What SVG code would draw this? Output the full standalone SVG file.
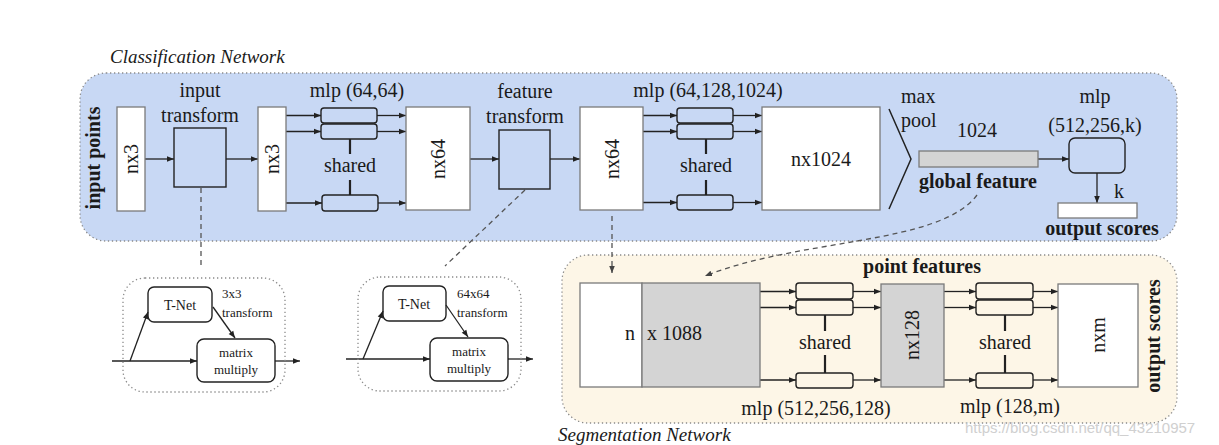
<svg xmlns="http://www.w3.org/2000/svg" width="1219" height="445" viewBox="0 0 1219 445">
<defs>
<marker id="ah" viewBox="0 0 10 10" refX="10" refY="5" markerWidth="8" markerHeight="7" markerUnits="userSpaceOnUse" orient="auto"><path d="M0,1 L10,5 L0,9 z" fill="#222"/></marker>
<marker id="ahd" viewBox="0 0 10 10" refX="10" refY="5" markerWidth="7" markerHeight="7" markerUnits="userSpaceOnUse" orient="auto"><path d="M0,1 L10,5 L0,9 z" fill="#444"/></marker>
<style>
.t{font-family:'Liberation Serif','Times New Roman','DejaVu Serif',serif;font-size:20px;fill:#1a1a1a}
.m{text-anchor:middle}
.b{font-weight:bold}
.i{font-style:italic}
.s{font-size:14px}
.xs{font-size:13px}
.wbox{fill:#fff;stroke:#7a7a7a;stroke-width:1.3}
.gbox{fill:#d4d4d4;stroke:#7a7a7a;stroke-width:1.3}
.bbox{fill:#c8d8f4;stroke:#222;stroke-width:1.4}
.mb{fill:none;stroke:#222;stroke-width:1.4}
.ar{stroke:#222;stroke-width:1.3;fill:none;marker-end:url(#ah)}
.ln{stroke:#222;stroke-width:2.2}
.dash{stroke:#555;stroke-width:1.3;fill:none;stroke-dasharray:5 4}
.panel{stroke:#8a8a8a;stroke-width:1.3;stroke-dasharray:1.3 2.7}
</style>
</defs>
<rect width="1219" height="445" fill="#fff"/>

<g id="classification-panel">
<rect class="panel" x="80" y="73" width="1097" height="168" rx="26" fill="#c8d8f4"/>
<text class="t i" x="110" y="63" style="font-size:19px">Classification Network</text>
<text class="t b m" transform="rotate(-90 93 158)" x="93" y="158" dominant-baseline="central">input points</text>
</g>
<g id="segmentation-panel">
<rect class="panel" x="562" y="255" width="615" height="168" rx="26" fill="#fdf6e7"/>
<text class="t i" x="558" y="441" style="font-size:19px">Segmentation Network</text>
<text class="t b m" transform="rotate(-90 1153 336)" x="1153" y="336" dominant-baseline="central">output scores</text>
</g>

<g id="connectors">
<line class="ar" x1="145" y1="159" x2="174" y2="159"/>
<line class="ar" x1="226" y1="159" x2="258" y2="159"/>
<line class="ar" x1="286" y1="115.5" x2="321" y2="115.5"/>
<line class="ar" x1="286" y1="131.5" x2="321" y2="131.5"/>
<line class="ar" x1="286" y1="203" x2="322" y2="203"/>
<line class="ar" x1="377" y1="115.5" x2="406" y2="115.5"/>
<line class="ar" x1="377" y1="131.5" x2="406" y2="131.5"/>
<line class="ar" x1="378" y1="203" x2="406" y2="203"/>
<line class="ar" x1="470" y1="159" x2="499" y2="159"/>
<line class="ar" x1="550" y1="159" x2="580" y2="159"/>
<line class="ar" x1="643" y1="115.5" x2="677" y2="115.5"/>
<line class="ar" x1="643" y1="131.5" x2="677" y2="131.5"/>
<line class="ar" x1="643" y1="202.5" x2="677" y2="202.5"/>
<line class="ar" x1="733" y1="115.5" x2="762" y2="115.5"/>
<line class="ar" x1="733" y1="131.5" x2="762" y2="131.5"/>
<line class="ar" x1="733" y1="202.5" x2="762" y2="202.5"/>
<line class="ar" x1="1038" y1="159" x2="1069" y2="159"/>
<line class="ar" x1="1097" y1="173" x2="1097" y2="203"/>
<line class="ar" x1="760" y1="291.5" x2="796" y2="291.5"/>
<line class="ar" x1="760" y1="307.5" x2="796" y2="307.5"/>
<line class="ar" x1="760" y1="380" x2="796" y2="380"/>
<line class="ar" x1="853" y1="291.5" x2="881" y2="291.5"/>
<line class="ar" x1="853" y1="307.5" x2="881" y2="307.5"/>
<line class="ar" x1="853" y1="380" x2="881" y2="380"/>
<line class="ar" x1="944" y1="291.5" x2="976" y2="291.5"/>
<line class="ar" x1="944" y1="307.5" x2="976" y2="307.5"/>
<line class="ar" x1="944" y1="380" x2="976" y2="380"/>
<line class="ar" x1="1033" y1="291.5" x2="1058" y2="291.5"/>
<line class="ar" x1="1033" y1="307.5" x2="1058" y2="307.5"/>
<line class="ar" x1="1033" y1="380" x2="1058" y2="380"/>
<line class="ln" x1="350" y1="139" x2="350" y2="154"/>
<line class="ln" x1="350" y1="180" x2="350" y2="195"/>
<line class="ln" x1="706" y1="139" x2="706" y2="154"/>
<line class="ln" x1="706" y1="180" x2="706" y2="195"/>
<line class="ln" x1="825" y1="315" x2="825" y2="331"/>
<line class="ln" x1="825" y1="355" x2="825" y2="373"/>
<line class="ln" x1="1005" y1="315" x2="1005" y2="331"/>
<line class="ln" x1="1005" y1="355" x2="1005" y2="373"/>
<line class="dash" x1="201" y1="188" x2="201" y2="266"/>
<line class="dash" x1="525" y1="190" x2="445" y2="266"/>
<line class="dash" x1="612" y1="216" x2="612" y2="273" marker-end="url(#ahd)"/>
<path class="dash" d="M977,195 C940,245 800,238 705,276" marker-end="url(#ahd)"/>
<line class="ar" x1="112" y1="361" x2="197" y2="361"/>
<line class="ar" x1="130" y1="361" x2="148" y2="312"/>
<line class="ar" x1="213" y1="307" x2="235" y2="338"/>
<line class="ar" x1="275" y1="361" x2="300" y2="361"/>
<line class="ar" x1="346" y1="359" x2="430" y2="359"/>
<line class="ar" x1="363" y1="359" x2="383" y2="311"/>
<line class="ar" x1="446" y1="305" x2="468" y2="337"/>
<line class="ar" x1="508" y1="359" x2="533" y2="359"/>
</g>

<g id="nx3-a"><rect class="wbox" x="117" y="107" width="28" height="104"/><text class="t m" transform="rotate(-90 131 159)" x="131" y="159" dominant-baseline="central">nx3</text></g>
<g id="input-transform"><text class="t m" x="200" y="97">input</text><text class="t m" x="200" y="122">transform</text><rect class="bbox" x="174" y="128" width="52" height="59"/></g>
<g id="nx3-b"><rect class="wbox" x="258" y="107" width="28" height="104"/><text class="t m" transform="rotate(-90 272 159)" x="272" y="159" dominant-baseline="central">nx3</text></g>
<g id="mlp-64-64"><text class="t m" x="357" y="97">mlp (64,64)</text>
<rect class="mb" x="321" y="108" width="56" height="15" rx="3"/><rect class="mb" x="321" y="124" width="56" height="15" rx="3"/><rect class="mb" x="322" y="195" width="56" height="16" rx="3"/>
<text class="t m" x="350" y="172">shared</text></g>
<g id="nx64-a"><rect class="wbox" x="406" y="107" width="64" height="103"/><text class="t m" transform="rotate(-90 438 159)" x="438" y="159" dominant-baseline="central">nx64</text></g>
<g id="feature-transform"><text class="t m" x="525" y="98">feature</text><text class="t m" x="525" y="123">transform</text><rect class="bbox" x="499" y="130" width="51" height="59"/></g>
<g id="nx64-b"><rect class="wbox" x="580" y="107" width="63" height="103"/><text class="t m" transform="rotate(-90 612 159)" x="612" y="159" dominant-baseline="central">nx64</text></g>
<g id="mlp-64-128-1024"><text class="t m" x="708" y="97">mlp (64,128,1024)</text>
<rect class="mb" x="677" y="108" width="56" height="15" rx="3"/><rect class="mb" x="677" y="124" width="56" height="15" rx="3"/><rect class="mb" x="677" y="195" width="56" height="15" rx="3"/>
<text class="t m" x="706" y="172">shared</text></g>
<g id="nx1024"><rect class="wbox" x="762" y="107" width="118" height="103"/><text class="t m" x="821" y="166">nx1024</text></g>
<g id="max-pool"><polyline points="889,109 911,159 889,209" fill="none" stroke="#222" stroke-width="1.5"/><text class="t" x="901" y="103">max</text><text class="t" x="901" y="127">pool</text></g>
<g id="global-feature"><text class="t m" x="977" y="137">1024</text><rect class="gbox" x="919" y="151" width="119" height="16"/><text class="t b m" x="978" y="188">global feature</text></g>
<g id="mlp-512-256-k"><text class="t m" x="1095" y="103">mlp</text><text class="t m" x="1095" y="132">(512,256,k)</text><rect class="bbox" x="1069" y="138" width="56" height="35" rx="6"/></g>
<g id="class-output"><text class="t" x="1114" y="198">k</text><rect class="wbox" x="1058" y="203" width="79" height="15"/><text class="t b m" x="1102" y="235">output scores</text></g>

<g id="tnet-3x3">
<rect class="panel" x="123" y="278" width="162" height="114" rx="22" fill="none"/>
<rect class="mb" x="148" y="287" width="64" height="35" rx="6"/><text class="t s m" x="180" y="310">T-Net</text>
<text class="t xs" x="222" y="298">3x3</text><text class="t xs" x="222" y="317">transform</text>
<rect class="mb" x="197" y="339" width="78" height="43" rx="7"/><text class="t xs m" x="236" y="357">matrix</text><text class="t xs m" x="236" y="374">multiply</text>
</g>
<g id="tnet-64x64">
<rect class="panel" x="358" y="277" width="163" height="114" rx="22" fill="none"/>
<rect class="mb" x="383" y="286" width="63" height="35" rx="6"/><text class="t s m" x="414" y="309">T-Net</text>
<text class="t xs" x="457" y="298">64x64</text><text class="t xs" x="457" y="317">transform</text>
<rect class="mb" x="430" y="338" width="78" height="43" rx="7"/><text class="t xs m" x="469" y="356">matrix</text><text class="t xs m" x="469" y="373">multiply</text>
</g>

<g id="n-x-1088"><rect class="wbox" x="580" y="283" width="62" height="104"/><rect class="gbox" x="642" y="283" width="118" height="104"/><text class="t" x="625" y="340">n</text><text class="t" x="647" y="340">x 1088</text></g>
<g id="point-features-label"><text class="t b m" x="922" y="273">point features</text></g>
<g id="mlp-512-256-128"><rect class="mb" x="796" y="283" width="57" height="16" rx="3"/><rect class="mb" x="796" y="300" width="57" height="15" rx="3"/><rect class="mb" x="796" y="373" width="57" height="15" rx="3"/>
<text class="t m" x="825" y="349">shared</text><text class="t m" x="816" y="415">mlp (512,256,128)</text></g>
<g id="nx128"><rect class="gbox" x="881" y="284" width="63" height="103"/><text class="t m" transform="rotate(-90 912 335)" x="912" y="335" dominant-baseline="central">nx128</text></g>
<g id="mlp-128-m"><rect class="mb" x="976" y="283" width="57" height="16" rx="3"/><rect class="mb" x="976" y="300" width="57" height="15" rx="3"/><rect class="mb" x="976" y="373" width="57" height="15" rx="3"/>
<text class="t m" x="1005" y="349">shared</text><text class="t m" x="1010" y="413">mlp (128,m)</text></g>
<g id="nxm"><rect class="wbox" x="1058" y="284" width="80" height="103"/><text class="t m" transform="rotate(-90 1098 335)" x="1098" y="335" dominant-baseline="central">nxm</text></g>

<text x="965" y="433" style="font-family:'Liberation Sans',Arial,sans-serif;font-size:15px;fill:#c8c8c8;opacity:0.85">https://blog.csdn.net/qq_43210957</text>
</svg>
